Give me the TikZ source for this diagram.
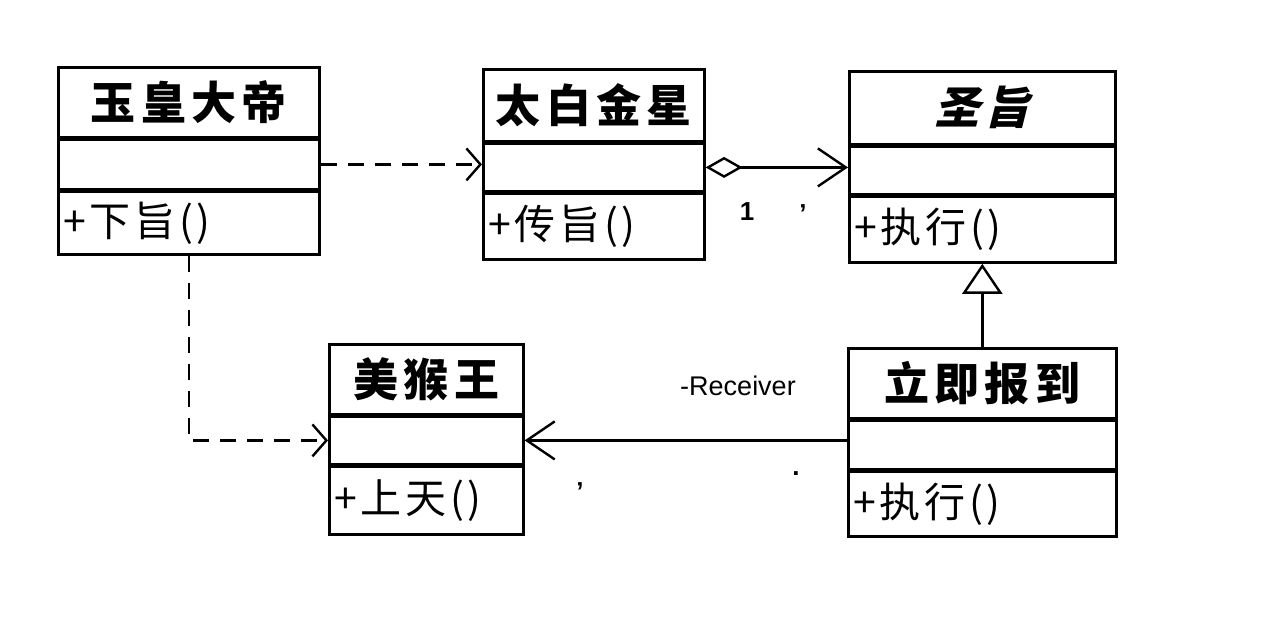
\documentclass[tikz,border=0pt]{standalone}
\usepackage{fontspec}
\setmainfont{Liberation Sans}
\newfontfamily\cjk{Noto Sans CJK SC}[LetterSpace=9]
\newfontfamily\cjkt{Noto Sans CJK SC}[LetterSpace=12]
\newfontfamily\cjkti{Noto Sans CJK SC}[LetterSpace=12,FakeSlant=0.25]
\usetikzlibrary{arrows.meta}
\tikzset{
  comp/.style={draw, line width=2.6pt, inner sep=0pt, anchor=north west},
  titletext/.style={font=\cjkt\bfseries\fontsize{45}{50}\selectfont},
  methtext/.style={font=\cjk\fontsize{41}{44}\selectfont},
  conn/.style={line width=2.4pt},
  dep/.style={conn, dash pattern=on 16pt off 11pt, -{Straight Barb[length=14pt,width=32pt]}},
  assoc/.style={conn, -{Straight Barb[length=28pt,width=38pt]}},
  aggr/.style={conn, {Diamond[open,length=37pt,width=21pt]}-{Straight Barb[length=28pt,width=38pt]}},
  gener/.style={conn, -{Triangle[open,length=30pt,width=40pt]}},
  mult/.style={font=\bfseries\fontsize{26}{28}\selectfont, inner sep=0pt},
}
\newcommand{\classbox}[9]{%
  \node[comp, titletext, minimum width=#4pt, minimum height=#5pt] (#1t) at (#2,#3) {#8};
  \node[comp, minimum width=#4pt, minimum height=#6pt] (#1a) at (#1t.south west) {};
  \node[comp, methtext, minimum height=#7pt, inner xsep=5pt, text width=#4pt-10pt, align=left] (#1m) at (#1a.south west) {#9};
}
\begin{document}
\begin{tikzpicture}[x=1pt,y=-1pt]
\path[use as bounding box, fill=white] (0,0) rectangle (1265,622);
\classbox{c1}{57}{66}{261}{70}{49}{63}{玉皇大帝}{+下旨\hspace{4pt}()}
\classbox{c2}{482}{68}{221}{72}{47}{66}{太白金星}{+传旨\hspace{4pt}()}
\classbox{c3}{848}{70}{266}{73}{47}{66}{{\cjkti\bfseries 圣旨}}{+执行\hspace{4pt}()}
\classbox{c4}{328}{343}{194}{70}{47}{68}{美猴王}{+上天\hspace{4pt}()}
\classbox{c5}{847}{347}{268}{70}{48}{65}{立即报到}{+执行\hspace{4pt}()}
% connectors
\draw[dep] (c1a.east) -- (c1a.east -| c2a.west);
\draw[aggr] (c2a.east) -- (c2a.east -| c3a.west);
\draw[dep] (c1m.south) |- (c4a.west);
\draw[gener] (c5t.north) -- (c3m.south);
\draw[assoc] (c4a.east -| c5a.west) -- (c4a.east);
% labels
\node[mult] (m1) at (747,212) {1};
\node[mult] (m2) at (803,214) {'};
\node[mult] (m3) at (580,492) {'};
\node[mult] (m4) at (796,474) {.};
\node[font=\fontsize{27}{30}\selectfont, inner sep=0pt] (recv) at (738,386) {-Receiver};
\end{tikzpicture}
\end{document}
